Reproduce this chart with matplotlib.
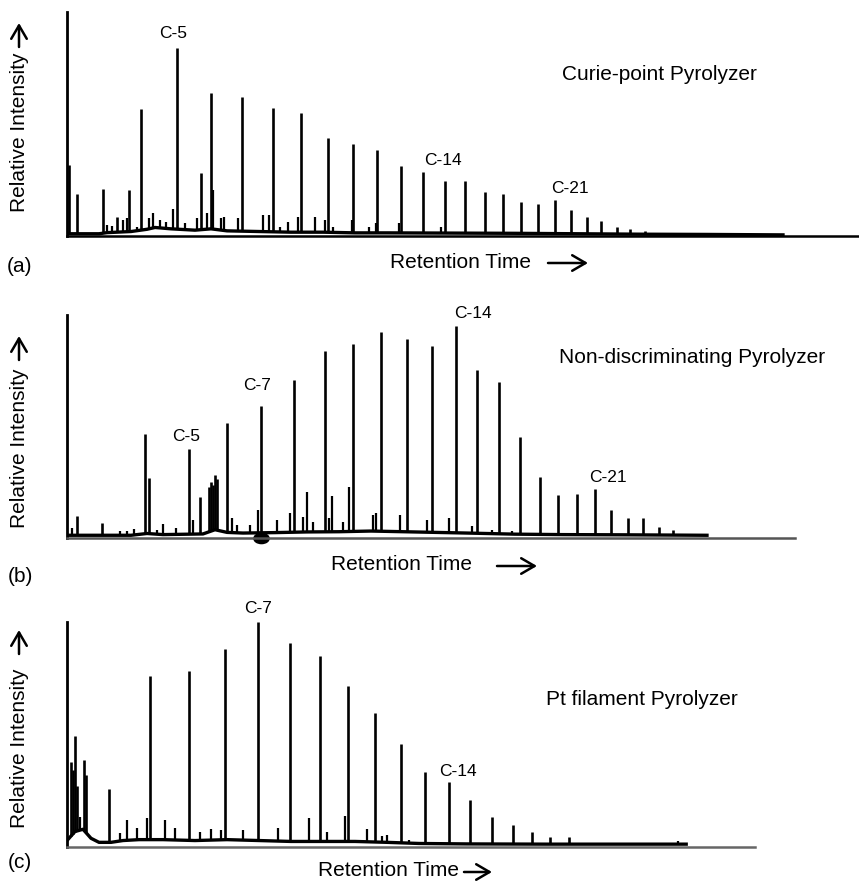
# Pyrolysis-GC chromatograms of polyethylene: three pyrolyzer types

import numpy as np
import matplotlib
matplotlib.use('Agg')
import matplotlib.pyplot as plt
from matplotlib.path import Path
from matplotlib.patches import FancyArrowPatch
from matplotlib.transforms import Affine2D

plt.rcParams['font.family'] = ['Liberation Sans', 'DejaVu Sans']

# Step 1: peak data (retention time in arbitrary min, relative intensity 0-100)

# (a) Curie-point pyrolyzer
rt_a = [0.2, 1.3, 4.5, 6.3, 7.8, 9.3, 13.7, 16.7, 18.0, 21.9, 25.7, 29.3, 32.6, 35.8, 38.8,
        41.7, 44.5, 47.2, 49.7, 52.2, 54.5, 56.8, 58.9, 61.0, 63.0, 65.0, 66.8, 68.7, 70.4,
        72.2, 73.7]
h_a = [31.7, 18.8, 21.0, 8.5, 20.5, 56.7, 83.9, 28.1, 63.8, 62.1, 57.1, 54.9, 43.8, 41.1, 38.4,
       31.3, 28.6, 24.6, 24.6, 19.6, 18.8, 15.2, 14.3, 16.1, 11.6, 8.5, 6.7, 4.0, 3.1,
       2.2, 1.3]
minor_rt_a = [5.0, 5.6, 7.0, 7.5, 8.7, 10.3, 10.8, 11.6, 12.4, 13.3, 14.8, 16.2, 17.5, 18.2,
              19.3, 19.6, 21.4, 24.5, 25.3, 26.6, 27.6, 28.9, 31.0, 32.3, 33.3, 35.6, 37.7,
              38.6, 41.5, 46.8]
minor_h_a = [4.9, 4.5, 7.1, 7.9, 4.0, 7.9, 10.1, 7.1, 6.4, 11.9, 6.0, 7.9, 10.1, 20.5,
             7.9, 8.6, 7.9, 9.4, 9.4, 4.2, 6.4, 8.3, 8.6, 7.1, 3.9, 7.1, 4.2,
             6.0, 6.0, 4.2]
base_rt_a = [0, 4, 5, 8, 10, 11, 13, 16, 18, 20, 24, 28, 32, 36, 40, 48, 56, 64, 72, 80, 89.5]
base_a = [1.0, 1.0, 1.5, 2, 3, 3.8, 3.2, 2.6, 3.2, 2.3, 2, 1.7, 1.7, 1.4, 1.4, 1.3, 1.2, 1.0, 0.8, 0.7, 0.5]

# (b) Non-discriminating pyrolyzer
rt_b = [1.2, 4.4, 9.8, 10.2, 15.3, 16.6, 17.8, 18.0, 18.25, 18.5, 18.7, 20.0, 24.3, 28.4,
        32.2, 35.8, 39.3, 42.5, 45.6, 48.6, 51.3, 54.0, 56.6, 59.1, 61.4, 63.7, 66.0, 68.0,
        70.1, 72.0, 74.0, 75.8, 77.5]
h_b = [9.5, 6.3, 46.4, 26.6, 39.6, 18.0, 22.5, 24.8, 23.4, 27.9, 26.1, 51.4, 59.0, 70.7,
       83.8, 86.9, 92.3, 89.2, 86.0, 95.0, 75.2, 69.8, 45.0, 27.0, 18.9, 19.4, 21.6, 12.2,
       8.6, 8.6, 4.5, 3.2, 1.4]
minor_rt_b = [0.6, 6.6, 7.5, 8.4, 11.2, 12.0, 13.6, 15.7, 20.6, 21.2, 22.9, 23.9, 26.3, 27.9,
              29.5, 30.0, 30.8, 32.7, 33.1, 34.5, 35.3, 38.3, 38.6, 41.6, 45.0, 47.7, 50.6,
              53.1, 55.6]
minor_h_b = [4.1, 2.7, 2.7, 3.6, 3.2, 6.0, 4.1, 7.8, 8.6, 5.6, 5.6, 12.3, 7.8, 10.8,
             9.0, 20.6, 7.1, 8.6, 18.8, 7.1, 22.5, 10.1, 10.8, 10.1, 7.8, 8.9, 5.1,
             3.3, 2.8]
base_rt_b = [0, 8, 10, 12, 17, 18.5, 20, 22, 26, 30, 34, 38, 42, 46, 50, 56, 62, 70, 80]
base_b = [1.0, 1.0, 1.8, 1.3, 1.6, 3.5, 2.3, 2, 2.2, 2.5, 2.6, 2.9, 2.6, 2.3, 2, 1.5, 1.3, 1.2, 1.0]

# (c) Pt filament pyrolyzer
rt_c = [0.5, 0.7, 1.0, 1.3, 2.1, 2.4, 5.3, 10.4, 15.2, 19.7, 23.9, 27.9, 31.6, 35.1, 38.5,
        41.7, 44.8, 47.7, 50.4, 53.1, 55.7, 58.1, 60.4, 62.7]
h_c = [37.8, 34.2, 49.3, 27.1, 38.7, 32.0, 25.8, 76.0, 78.2, 88.0, 100.0, 90.7, 84.9, 71.6, 59.6,
       45.8, 33.3, 28.9, 20.9, 13.3, 9.8, 6.7, 4.4, 4.4]
minor_rt_c = [1.6, 6.6, 7.5, 8.8, 10.0, 12.2, 13.5, 16.6, 18.0, 19.3, 22.0, 26.4, 30.2, 32.5,
              34.8, 37.5, 39.4, 40.0, 42.7, 76.4]
minor_h_c = [13.6, 6.5, 12.1, 8.4, 12.9, 11.9, 8.4, 6.9, 8.0, 7.7, 7.7, 8.4, 13.2, 6.9,
             13.9, 8.1, 5.2, 5.5, 3.4, 3.0]
base_rt_c = [0, 1, 2, 3, 4, 5.5, 7, 9, 12, 16, 20, 24, 28, 32, 36, 40, 44, 50, 60, 70, 77.4]
base_c = [3, 7, 8, 4, 2.2, 2.2, 3, 3.4, 3.4, 3, 3.4, 3, 2.6, 2.6, 2.6, 2.2, 1.7, 1.5, 1.4, 1.4, 1.4]

# Step 2: figure and axes (positions in figure pixels)
W, H = 859, 882
fig = plt.figure(figsize=(W / 100, H / 100), dpi=100)

def fx(px):
    return px / W

def fy(py):
    return 1 - py / H

ax_a = fig.add_axes([fx(67), fy(236), fx(792), 224 / H])
ax_b = fig.add_axes([fx(67), fy(537.5), fx(728), 222.5 / H])
ax_c = fig.add_axes([fx(67), fy(847.3), fx(688), 225.3 / H])

panels = [
    (ax_a, rt_a, h_a, minor_rt_a, minor_h_a, base_rt_a, base_a, 99, 'black'),
    (ax_b, rt_b, h_b, minor_rt_b, minor_h_b, base_rt_b, base_b, 91, '#555555'),
    (ax_c, rt_c, h_c, minor_rt_c, minor_h_c, base_rt_c, base_c, 86, '#666666'),
]

for ax, rt, h, mrt, mh, brt, bl, xmax, axis_col in panels:
    ax.plot(brt, bl, color='black', lw=2.4, solid_joinstyle='round')
    # peaks stand on the baseline
    ax.vlines(mrt, np.interp(mrt, brt, bl), mh, color='black', lw=1.6)
    ax.vlines(rt, np.interp(rt, brt, bl), h, color='black', lw=1.9)
    ax.set_xlim(0, xmax)
    ax.set_ylim(0, 100)
    ax.set_xticks([])
    ax.set_yticks([])
    ax.spines['top'].set_visible(False)
    ax.spines['right'].set_visible(False)
    ax.spines['left'].set_linewidth(2)
    ax.spines['left'].set_color('black')
    ax.spines['bottom'].set_linewidth(1.8)
    ax.spines['bottom'].set_color(axis_col)
    ax.patch.set_visible(False)

# black blob on the axis under C-7 in panel (b)
blob = Affine2D().scale(1.5, 1.0).transform_path(Path.unit_circle())
ax_b.plot([24.3], [0], marker=blob, ms=11, color='black', clip_on=False)

# Step 3: peak labels
lab = dict(fontsize=12.5, ha='center', va='center', clip_on=False)
ax_a.text(13.3, 90.6, 'C-5', **lab)
ax_a.text(47.0, 33.5, 'C-14', **lab)
ax_a.text(62.9, 21.4, 'C-21', **lab)
ax_b.text(14.9, 45.4, 'C-5', **lab)
ax_b.text(23.75, 68.2, 'C-7', **lab)
ax_b.text(50.75, 100.7, 'C-14', **lab)
ax_b.text(67.6, 26.8, 'C-21', **lab)
ax_c.text(23.9, 105.9, 'C-7', **lab)
ax_c.text(48.9, 33.6, 'C-14', **lab)

big = dict(fontsize=15, ha='center', va='center')
ax_a.text(74.0, 71.9, 'Curie-point Pyrolyzer', **big)
ax_b.text(78.1, 80.9, 'Non-discriminating Pyrolyzer', **big)
ax_c.text(71.9, 65.5, 'Pt filament Pyrolyzer', **big)

# Step 4: axis captions
def arrow(p0, p1):
    fig.add_artist(FancyArrowPatch(
        (fx(p0[0]), fy(p0[1])), (fx(p1[0]), fy(p1[1])), transform=fig.transFigure,
        arrowstyle='->,head_length=6,head_width=3.5', mutation_scale=1.6, lw=1.8,
        color='black', shrinkA=0, shrinkB=0))

for ytxt, ya0, ya1, tag, ytag in [(132, 47, 23, '(a)', 267), (448, 360, 336, '(b)', 577),
                                  (748, 654, 630, '(c)', 863)]:
    fig.text(fx(20), fy(ytxt), 'Relative Intensity', rotation=90, **big)
    arrow((19, ya0), (19, ya1))
    fig.text(fx(20), fy(ytag), tag, **big)

for xcen, ytxt, x0, x1 in [(460, 262, 548, 588), (401.5, 565, 497, 537), (389, 871, 464, 492)]:
    fig.text(fx(xcen), fy(ytxt), 'Retention Time', **big)
    arrow((x0, ytxt + 1), (x1, ytxt + 1))

fig.savefig('out.png', dpi=100)
